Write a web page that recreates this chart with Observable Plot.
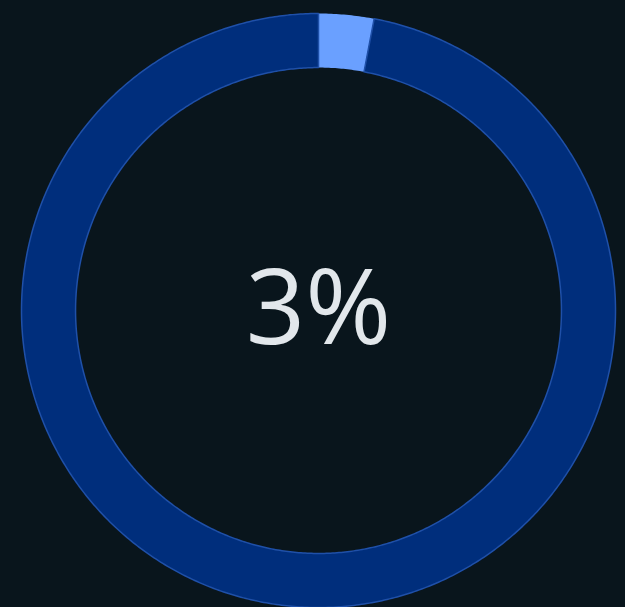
<!DOCTYPE html>
<html>
<head>
<meta charset="utf-8">
<script src="https://cdn.jsdelivr.net/npm/d3@7"></script>
<script src="https://cdn.jsdelivr.net/npm/@observablehq/plot@0.6"></script>
<style>
  html, body { margin: 0; padding: 0; background: #09151c; }
  #chart { width: 625px; height: 607px; }
</style>
</head>
<body>
<div id="chart"></div>
<script>
const categories = ["Complete", "Remaining"];
const values = [3, 97];
const centerLabel = "3%";

const fills = ["#6aa0ff", "#002e7c"];
const strokes = ["none", "#1f50a8"];
const innerRatio = 0.818;

// Build slice outlines from the values (angles measured clockwise from top)
const total = d3.sum(values);
const rows = [];
let acc = 0;
categories.forEach((cat, i) => {
  const a0 = acc / total * 2 * Math.PI;
  acc += values[i];
  const a1 = acc / total * 2 * Math.PI;
  const n = Math.max(2, Math.ceil((a1 - a0) / (Math.PI / 360)));
  const pts = [];
  for (let k = 0; k <= n; k++) {
    const a = a0 + (a1 - a0) * k / n;
    pts.push({slice: cat, x: Math.sin(a), y: Math.cos(a)});
  }
  for (let k = n; k >= 0; k--) {
    const a = a0 + (a1 - a0) * k / n;
    pts.push({slice: cat, x: innerRatio * Math.sin(a), y: innerRatio * Math.cos(a)});
  }
  pts.push({...pts[0]});
  rows.push(...pts);
});

const chart = Plot.plot({
  width: 625,
  height: 607,
  marginLeft: 21,
  marginRight: 10,
  marginTop: 13,
  marginBottom: 0,
  x: {domain: [-1, 1], axis: null},
  y: {domain: [-1, 1], axis: null},
  style: {background: "#09151c", overflow: "visible"},
  marks: [
    ...categories.map((cat, i) => Plot.line(rows.filter(d => d.slice === cat), {
      x: "x", y: "y",
      fill: fills[i],
      stroke: strokes[i],
      strokeWidth: 1.5,
      curve: "linear"
    })),
    Plot.text([centerLabel], {
      x: () => 0, y: () => 0,
      text: d => d,
      fontSize: 104,
      fontFamily: "'Open Sans', Lato, sans-serif",
      fontWeight: 400,
      fill: "#e2e7eb",
      textAnchor: "middle",
      dy: 0
    })
  ]
});
document.getElementById("chart").append(chart);
</script>
</body>
</html>
